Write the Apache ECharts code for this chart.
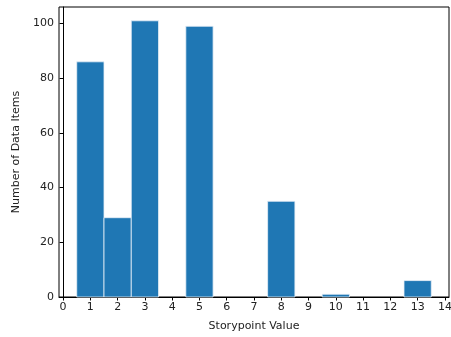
<!DOCTYPE html>
<html><head><meta charset="utf-8">
<script src="https://cdn.jsdelivr.net/npm/echarts@6/dist/echarts.min.js"></script>
<style>html,body{margin:0;padding:0;background:#fff}#c{width:451px;height:337px}</style>
</head><body><div id="c"></div>
<script>
var storypoints = [1, 2, 3, 5, 8, 10, 13];
var counts = [86, 29, 101, 99, 35, 1, 6];
var xTicks = [0,1,2,3,4,5,6,7,8,9,10,11,12,13,14];
var yTicks = [0,20,40,60,80,100];

var chart = echarts.init(document.getElementById('c'), null, {renderer:'canvas'});
var font = 'DejaVu Sans';
var data = storypoints.map(function(v,i){return [v, counts[i]];});
chart.setOption({
  animation:false,
  grid:{left:59, right:2, top:7, bottom:40, outerBoundsMode:'none', containLabel:false,
    show:true, borderColor:'#000', borderWidth:1, backgroundColor:'transparent'},
  xAxis:{type:'value', min:-0.15, max:14.15,
    name:'Storypoint Value', nameLocation:'middle', nameGap:24,
    nameTextStyle:{fontFamily:font, fontSize:11, color:'#222'},
    axisLine:{show:true, onZero:false, lineStyle:{color:'#000', width:1}},
    axisTick:{show:true, length:3.5, lineStyle:{color:'#000'}, customValues:xTicks},
    axisLabel:{fontFamily:font, fontSize:11, color:'#222', margin:5, customValues:xTicks},
    splitLine:{show:false}},
  yAxis:{type:'value', min:0, max:106.05,
    name:'Number of Data Items', nameLocation:'middle', nameGap:37, nameRotate:90,
    nameTextStyle:{fontFamily:font, fontSize:11, color:'#222'},
    axisLine:{show:true, lineStyle:{color:'#000', width:1}},
    axisTick:{show:true, length:3.5, lineStyle:{color:'#000'}, customValues:yTicks},
    axisLabel:{fontFamily:font, fontSize:11, color:'#222', margin:5, customValues:yTicks},
    splitLine:{show:false}},
  series:[{type:'custom', data:data,
    renderItem:function(params, api){
      var x = api.value(0), y = api.value(1);
      var p0 = api.coord([x-0.5, y]);
      var p1 = api.coord([x+0.5, 0]);
      return {type:'rect', shape:{x:p0[0], y:p0[1], width:p1[0]-p0[0], height:p1[1]-p0[1]},
        style:{fill:'#1f77b4', stroke:'#e8f0f8', lineWidth:0.8}};
    }}]
});
</script></body></html>
